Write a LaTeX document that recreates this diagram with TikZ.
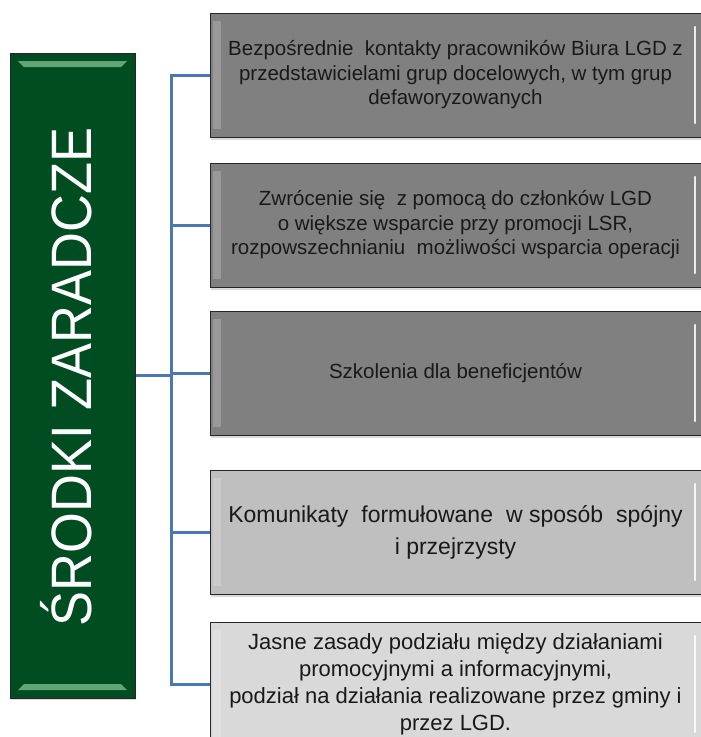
\documentclass[tikz,border=0pt]{standalone}
\usepackage{fontspec}
\setmainfont{Liberation Sans}
\usepackage{tikz}
\usetikzlibrary{positioning,calc,shadows}

\definecolor{zgreen}{RGB}{0,77,34}
\definecolor{zlight}{RGB}{120,190,140}
\definecolor{zblue}{RGB}{74,120,178}
\definecolor{boxdark}{RGB}{128,128,128}
\definecolor{boxmid}{RGB}{191,191,191}
\definecolor{boxlight}{RGB}{217,217,217}

\begin{document}
\begin{tikzpicture}[
    x=1pt,y=-1pt,
    box/.style={rectangle,draw=black!85,line width=1pt,minimum width=491pt,minimum height=124pt,
        inner sep=0pt,align=center,text=black!90,font=\fontsize{20.5}{24.5}\selectfont,
        drop shadow={shadow xshift=1pt,shadow yshift=-3pt,opacity=.3},
        path picture={
            \fill[white,opacity=.2] ([xshift=3pt,yshift=-8pt]path picture bounding box.north west)
                rectangle ([xshift=11pt,yshift=8pt]path picture bounding box.south west);
            \draw[white,line width=2.5pt,line cap=round,opacity=.85]
                ([xshift=-6pt,yshift=-14pt]path picture bounding box.north east)
                -- ([xshift=-6pt,yshift=14pt]path picture bounding box.south east);
        }},
    mainbox/.style={rectangle,draw=black!85,line width=1pt,fill=zgreen,minimum width=125pt,
        minimum height=645pt,inner sep=0pt,
        drop shadow={shadow xshift=1pt,shadow yshift=-2pt,opacity=.3},
        path picture={
            \fill[zlight,opacity=.8] ([xshift=8pt,yshift=-8pt]path picture bounding box.north west)
                -- ([xshift=-8pt,yshift=-8pt]path picture bounding box.north east)
                -- ([xshift=-14pt,yshift=-14pt]path picture bounding box.north east)
                -- ([xshift=14pt,yshift=-14pt]path picture bounding box.north west) -- cycle;
            \fill[zlight,opacity=.8] ([xshift=8pt,yshift=8pt]path picture bounding box.south west)
                -- ([xshift=-8pt,yshift=8pt]path picture bounding box.south east)
                -- ([xshift=-14pt,yshift=14pt]path picture bounding box.south east)
                -- ([xshift=14pt,yshift=14pt]path picture bounding box.south west) -- cycle;
        }},
    link/.style={draw=zblue,line width=3pt},
    node distance=25pt
]
    \useasboundingbox (0,0) rectangle (701,737);

    % left block
    \node[mainbox] (srodki) at (72.5,375.5) {};
    \node[rotate=90,text=white,inner sep=0pt,anchor=base] at (91,377)
        {\scalebox{0.92}[1]{\fontsize{57}{57}\selectfont ŚRODKI ZARADCZE}};

    % measures
    \node[box,fill=boxdark] (m1) at (455.5,75) {Bezpośrednie\ \ kontakty pracowników Biura LGD z\\
        przedstawicielami grup docelowych, w tym grup\\ defaworyzowanych};
    \node[box,fill=boxdark,below=25pt of m1] (m2) {Zwrócenie się\ \ z pomocą do członków LGD\\
        o większe wsparcie przy promocji LSR,\\ rozpowszechnianiu\ \ możliwości wsparcia operacji};
    \node[box,fill=boxdark,below=23pt of m2] (m3) {Szkolenia dla beneficjentów};
    \node[box,fill=boxmid,below=34pt of m3,font=\fontsize{23}{32}\selectfont] (m4)
        {Komunikaty\hspace{13pt}formułowane\hspace{13pt}w sposób\hspace{13pt}spójny\\ i przejrzysty};
    \node[box,fill=boxlight,below=27pt of m4,font=\fontsize{22}{27}\selectfont] (m5)
        {Jasne zasady podziału między działaniami\\ promocyjnymi a informacyjnymi,\\
        podział na działania realizowane przez gminy i\\ przez LGD.};

    % connectors
    \coordinate (trunk) at ($(m1.west)+(-38,0)$);
    \draw[link] (m1.west) -- (trunk) -- (trunk |- m5.west) -- (m5.west);
    \foreach \m in {m2,m3,m4}
        \draw[link] (\m.west) -- (trunk |- \m.west);
    \draw[link] (srodki.east) -- (trunk |- srodki.east);
\end{tikzpicture}
\end{document}
